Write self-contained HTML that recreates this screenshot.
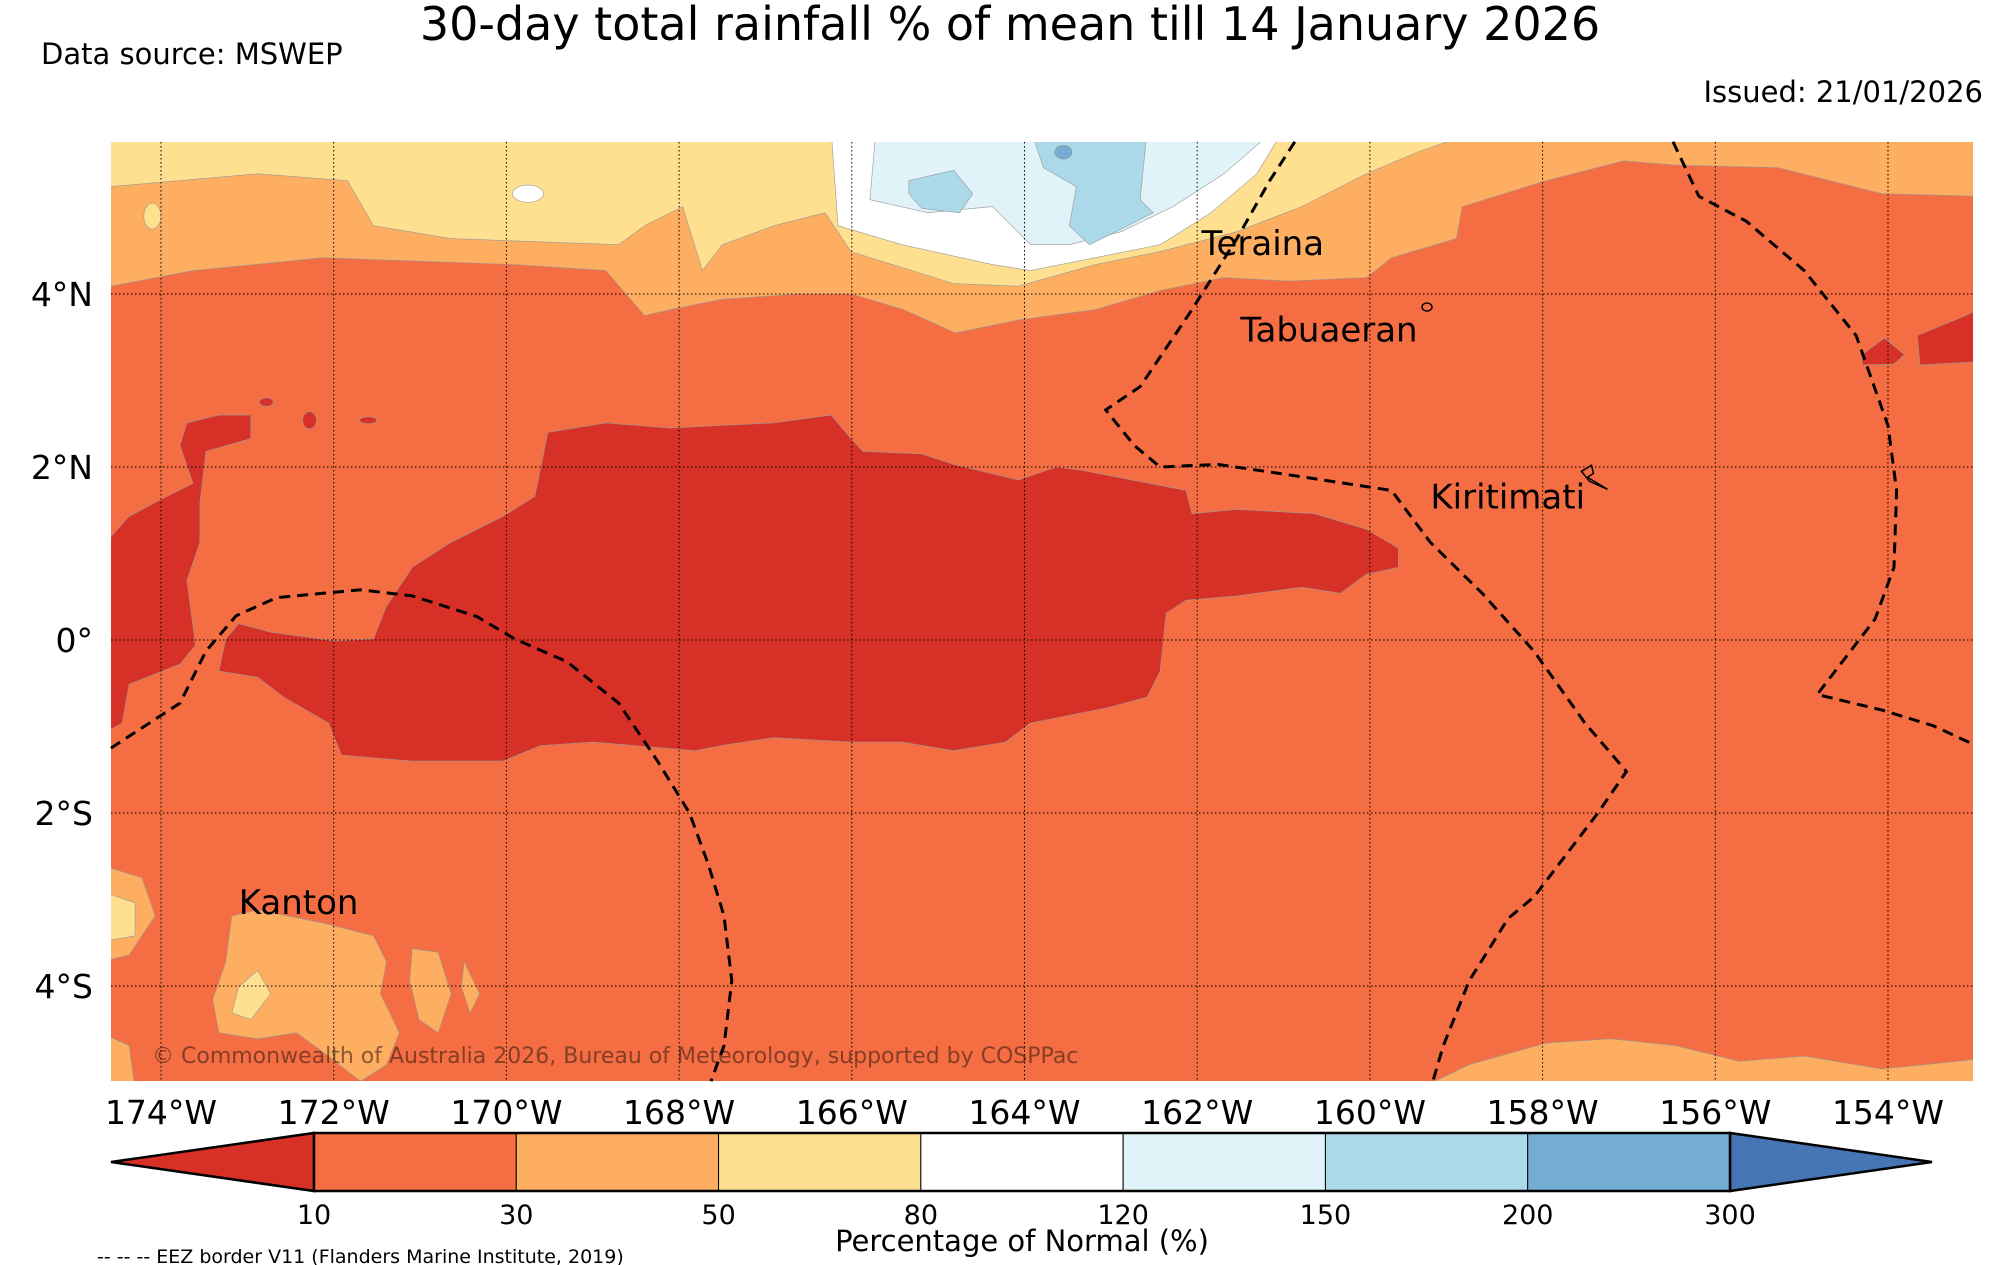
<!DOCTYPE html>
<html><head><meta charset="utf-8"><style>
html,body{margin:0;padding:0;background:#fff}
svg{display:block;font-family:"DejaVu Sans","Liberation Sans",sans-serif}
</style></head><body>
<svg id="c" width="2000" height="1265" viewBox="0 0 2000 1265">
<text x="1010" y="40" font-size="46" text-anchor="middle">30-day total rainfall % of mean till 14 January 2026</text>
<text x="41" y="64" font-size="29">Data source: MSWEP</text>
<text x="1983" y="102" font-size="29" text-anchor="end">Issued: 21/01/2026</text>
<defs><clipPath id="mapclip"><rect x="111" y="142" width="1862" height="939"/></clipPath></defs>
<g id="map" clip-path="url(#mapclip)"></g>
<g id="grid"></g>
<g id="eez"></g>
<g id="labels"></g>
<g id="cbar"></g>
</svg>
<script>
const lonTicks=[-174,-172,-170,-168,-166,-164,-162,-160,-158,-156,-154];
const latTicks=[4,2,0,-2,-4];
const cbLevels=["10","30","50","80","120","150","200","300"];
const cbColors=["#d73027","#f46d43","#fdae61","#fee090","#ffffff","#e0f3f8","#abd9e9","#74add1","#4575b4"];
const bandOrange=[[-174.6,5.9],[-174.58,4.09],[-173.63,4.27],[-172.13,4.42],[-169.9,4.34],[-168.85,4.27],[-168.4,3.75],[-168.1,3.82],[-167.5,3.94],[-166.6,4.0],[-166.0,4.0],[-165.4,3.82],[-164.8,3.55],[-164.07,3.70],[-163.18,3.82],[-162.43,4.04],[-161.69,4.19],[-160.94,4.15],[-160.04,4.19],[-159.75,4.42],[-159.0,4.64],[-158.93,5.01],[-157.96,5.31],[-157.06,5.54],[-156.46,5.49],[-155.27,5.46],[-154.07,5.16],[-152.9,5.13],[-152.9,5.9]];
const bandYellow=[[-174.6,5.9],[-174.6,5.24],[-172.88,5.39],[-171.84,5.31],[-171.54,4.79],[-170.64,4.64],[-168.7,4.57],[-168.4,4.79],[-167.96,5.01],[-167.73,4.27],[-167.5,4.57],[-166.9,4.79],[-166.31,4.94],[-166.01,4.49],[-164.82,4.12],[-164.07,4.09],[-163.18,4.34],[-162.43,4.49],[-161.54,4.72],[-160.79,5.01],[-160.04,5.39],[-159.45,5.64],[-158.7,5.9]];
const bandWhite=[[-166.24,5.9],[-166.16,4.79],[-165.42,4.57],[-164.37,4.34],[-163.93,4.27],[-163.18,4.42],[-162.43,4.57],[-161.84,4.94],[-161.31,5.39],[-161.0,5.9]];
const bandLightBlue=[[-165.72,5.9],[-165.79,5.09],[-165.12,4.94],[-164.37,5.01],[-163.93,4.57],[-163.48,4.57],[-162.88,4.72],[-162.28,5.01],[-161.69,5.39],[-161.1,5.9]];
const blueBlob1=[[-165.34,5.31],[-164.82,5.43],[-164.6,5.16],[-164.75,4.94],[-165.19,4.99],[-165.34,5.16]];
const blueBlob2=[[-163.93,5.9],[-162.58,5.9],[-162.66,5.09],[-162.51,4.94],[-162.88,4.75],[-163.25,4.57],[-163.48,4.79],[-163.4,5.24],[-163.78,5.46]];
const redMain=[[-169.52,2.40],[-168.85,2.51],[-168.10,2.45],[-167.51,2.48],[-166.91,2.51],[-166.24,2.60],[-166.01,2.33],[-165.87,2.18],[-165.19,2.15],[-164.82,2.03],[-164.07,1.85],[-163.63,2.0],[-163.33,1.96],[-162.13,1.73],[-162.06,1.46],[-161.54,1.51],[-160.64,1.46],[-160.04,1.28],[-159.67,1.06],[-159.67,0.84],[-160.04,0.76],[-160.34,0.54],[-160.79,0.61],[-161.54,0.51],[-162.13,0.46],[-162.36,0.31],[-162.43,-0.36],[-162.58,-0.66],[-163.03,-0.78],[-163.93,-0.96],[-164.22,-1.18],[-164.82,-1.28],[-165.42,-1.18],[-166.01,-1.18],[-166.91,-1.13],[-167.51,-1.22],[-167.81,-1.28],[-169.0,-1.18],[-169.6,-1.22],[-170.04,-1.40],[-171.09,-1.40],[-171.91,-1.33],[-172.06,-0.96],[-172.58,-0.66],[-172.88,-0.43],[-173.33,-0.36],[-173.25,0.01],[-173.1,0.19],[-172.73,0.09],[-171.99,-0.01],[-171.54,0.01],[-171.39,0.39],[-171.09,0.84],[-170.64,1.13],[-170.04,1.43],[-169.67,1.66]];
const redLeft=[[-174.7,1.06],[-174.37,1.43],[-173.93,1.66],[-173.63,1.81],[-173.78,2.25],[-173.7,2.51],[-173.33,2.6],[-172.96,2.6],[-172.96,2.33],[-173.48,2.18],[-173.55,1.58],[-173.55,1.13],[-173.7,0.69],[-173.6,-0.06],[-173.78,-0.28],[-174.37,-0.51],[-174.45,-0.96],[-174.7,-1.1]];
const redRight1=[[-154.3,3.3],[-154.04,3.49],[-153.81,3.3],[-153.93,3.19],[-154.3,3.18]];
const redRight2=[[-153.66,3.52],[-153.1,3.75],[-152.9,3.85],[-152.9,3.22],[-153.63,3.18]];
const orangeBL=[[-174.7,-2.6],[-174.22,-2.75],[-174.07,-3.19],[-174.37,-3.64],[-174.7,-3.72]];
const yellowBL=[[-174.7,-2.9],[-174.3,-3.04],[-174.3,-3.42],[-174.7,-3.49]];
const orangeKanton=[[-173.18,-3.19],[-172.88,-3.12],[-172.13,-3.27],[-171.54,-3.42],[-171.39,-3.72],[-171.46,-4.09],[-171.24,-4.54],[-171.39,-4.91],[-171.69,-5.1],[-172.13,-4.76],[-172.43,-4.54],[-172.88,-4.61],[-173.33,-4.54],[-173.4,-4.16],[-173.25,-3.72]];
const yellowKanton=[[-173.1,-4.01],[-172.88,-3.82],[-172.73,-4.09],[-172.96,-4.39],[-173.18,-4.31]];
const orangeSmall1=[[-171.09,-3.57],[-170.79,-3.61],[-170.64,-4.09],[-170.79,-4.54],[-171.01,-4.39],[-171.12,-3.94]];
const orangeSmall2=[[-170.49,-3.72],[-170.31,-4.09],[-170.42,-4.31],[-170.52,-4.01]];
const orangeBR=[[-159.45,-5.2],[-158.85,-4.91],[-157.96,-4.66],[-157.21,-4.61],[-156.46,-4.69],[-155.72,-4.87],[-154.97,-4.81],[-154.07,-4.96],[-152.9,-4.84],[-152.9,-5.2]];
const orangeCorner=[[-174.7,-4.54],[-174.37,-4.69],[-174.3,-5.2],[-174.7,-5.2]];
const eezA=[[-174.58,-1.25],[-173.78,-0.73],[-173.48,-0.13],[-173.13,0.28],[-172.66,0.49],[-171.69,0.58],[-171.09,0.51],[-170.34,0.27],[-169.9,0.01],[-169.3,-0.25],[-168.7,-0.73],[-168.25,-1.40],[-167.88,-2.0],[-167.66,-2.6],[-167.48,-3.19],[-167.39,-3.94],[-167.48,-4.69],[-167.63,-5.1]];
const eezB=[[-160.87,5.76],[-161.16,5.31],[-161.54,4.64],[-162.06,3.82],[-162.66,2.93],[-163.06,2.66],[-162.73,2.25],[-162.43,2.0],[-161.76,2.03],[-160.94,1.91],[-159.75,1.73],[-159.3,1.13],[-158.7,0.54],[-158.1,-0.13],[-157.51,-0.96],[-157.03,-1.52],[-157.36,-2.0],[-158.1,-2.97],[-158.4,-3.22],[-158.85,-3.94],[-159.15,-4.69],[-159.27,-5.1]];
const eezC=[[-156.49,5.76],[-156.19,5.13],[-155.64,4.84],[-154.97,4.27],[-154.37,3.52],[-154.0,2.48],[-153.9,1.73],[-153.93,0.84],[-154.15,0.24],[-154.82,-0.63],[-154.07,-0.81],[-153.48,-0.99],[-153.0,-1.21]];
const islandNames=["Teraina","Tabuaeran","Kiritimati","Kanton"];
const islandLon=[-161.95,-161.5,-159.3,-173.1];
const islandLat=[4.45,3.45,1.52,-3.17];

const NS="http://www.w3.org/2000/svg";
const X0=111,X1=1973,Y0=142,Y1=1081;
function xs(lon){return 161+(lon+174)*86.35;}
function ys(lat){return 640-lat*86.5;}
function mk(tag,attrs,parent){const e=document.createElementNS(NS,tag);for(const k in attrs)e.setAttribute(k,attrs[k]);parent.appendChild(e);return e;}
function pts(a){return a.map(p=>xs(p[0]).toFixed(1)+","+ys(p[1]).toFixed(1)).join(" ");}
const map=document.getElementById("map");
const bg=mk("rect",{x:X0,y:Y0,width:X1-X0,height:Y1-Y0,fill:cbColors[1]},map);


const layers=[
 ["band-30-50",bandOrange,2],["band-50-80",bandYellow,3],["band-80-120",bandWhite,4],["band-120-150",bandLightBlue,5],
 ["blob-150-200-a",blueBlob1,6],["blob-150-200-b",blueBlob2,6],
 ["red-main",redMain,0],["red-left",redLeft,0],["red-right-a",redRight1,0],["red-right-b",redRight2,0],
 ["orange-bottom-left",orangeBL,2],["yellow-bottom-left",yellowBL,3],["orange-kanton",orangeKanton,2],["yellow-kanton",yellowKanton,3],
 ["orange-small-a",orangeSmall1,2],["orange-small-b",orangeSmall2,2],["orange-bottom-right",orangeBR,2],["orange-corner",orangeCorner,2]
];
layers.forEach(l=>{
 const e=mk("polygon",{points:pts(l[1]),fill:cbColors[l[2]],stroke:"#999","stroke-width":0.6,"stroke-linejoin":"round"},map);
 
 
});
[[ -163.55,5.64,0.1,0.08,7],[-169.75,5.16,0.18,0.1,4],[-174.1,4.9,0.1,0.15,3],[-172.78,2.75,0.08,0.05,0],[-172.28,2.54,0.08,0.1,0],[-171.6,2.54,0.1,0.04,0]].forEach(s=>{
 const e=mk("ellipse",{cx:xs(s[0]),cy:ys(s[1]),rx:s[2]*86,ry:s[3]*86,fill:cbColors[s[4]],stroke:"#999","stroke-width":0.6},map);
 
 
});
const cp=mk("text",{x:152,y:1063,"font-size":22,fill:"rgba(60,30,20,0.6)"},map);
cp.textContent="© Commonwealth of Australia 2026, Bureau of Meteorology, supported by COSPPac";


const isl=mk("path",{d:`M${xs(-157.55)},${ys(1.95)} l10,-6 l2,8 l-6,4 l20,12 l-18,-8 z`,fill:"none",stroke:"#000","stroke-width":1.5},map);


const tab=mk("ellipse",{cx:1427,cy:307,rx:5,ry:4,fill:"none",stroke:"#000","stroke-width":1.5},map);


islandNames.forEach((n,i)=>{
 const t=mk("text",{x:xs(islandLon[i]),y:ys(islandLat[i]),"font-size":34},map);
 t.textContent=n;
 
 
});
const grid=document.getElementById("grid");
lonTicks.forEach(v=>{
 const l=mk("line",{x1:xs(v),x2:xs(v),y1:Y0,y2:Y1,stroke:"#000","stroke-width":1,"stroke-dasharray":"1.5,2.5"},grid);
 
 
});
latTicks.forEach(v=>{
 const l=mk("line",{x1:X0,x2:X1,y1:ys(v),y2:ys(v),stroke:"#000","stroke-width":1,"stroke-dasharray":"1.5,2.5"},grid);
 
 
});
const eez=document.getElementById("eez");
[eezA,eezB,eezC].forEach((a,i)=>{
 const p=mk("polyline",{points:pts(a),fill:"none",stroke:"#000","stroke-width":3,"stroke-dasharray":"11,7"},eez);
 
 
});
const lab=document.getElementById("labels");
lonTicks.forEach(v=>{
 const t=mk("text",{x:xs(v),y:1124,"font-size":33,"text-anchor":"middle"},lab);
 t.textContent=Math.abs(v)+"°W";
 
 
});
latTicks.forEach(v=>{
 const t=mk("text",{x:93,y:ys(v)+12,"font-size":33,"text-anchor":"end"},lab);
 t.textContent=v===0?"0°":Math.abs(v)+"°"+(v>0?"N":"S");
 
 
});
const cb=document.getElementById("cbar");
const cbL=314,cbR=1730,cbT=1133,cbB=1191,segW=(cbR-cbL)/(cbLevels.length-1);
const tl=mk("polygon",{points:`111,${(cbT+cbB)/2} ${cbL},${cbT} ${cbL},${cbB}`,fill:cbColors[0],stroke:"#000","stroke-width":2.5},cb);


const tr=mk("polygon",{points:`1932,${(cbT+cbB)/2} ${cbR},${cbT} ${cbR},${cbB}`,fill:cbColors[8],stroke:"#000","stroke-width":2.5},cb);


for(let i=0;i<cbLevels.length-1;i++){
 const r=mk("rect",{x:cbL+i*segW,y:cbT,width:segW,height:cbB-cbT,fill:cbColors[i+1],stroke:"#000","stroke-width":1},cb);
 
 
}
mk("rect",{x:cbL,y:cbT,width:cbR-cbL,height:cbB-cbT,fill:"none",stroke:"#000","stroke-width":2.5},cb);
cbLevels.forEach((v,i)=>{
 const t=mk("text",{x:cbL+i*segW,y:1224,"font-size":27,"text-anchor":"middle"},cb);
 t.textContent=v;
 
 
});
const ct=mk("text",{x:1022,y:1251,"font-size":29,"text-anchor":"middle"},cb);
ct.textContent="Percentage of Normal (%)";


const et=mk("text",{x:97,y:1263,"font-size":19},cb);
et.textContent="-- -- -- EEZ border V11 (Flanders Marine Institute, 2019)";


</script>
</body></html>
